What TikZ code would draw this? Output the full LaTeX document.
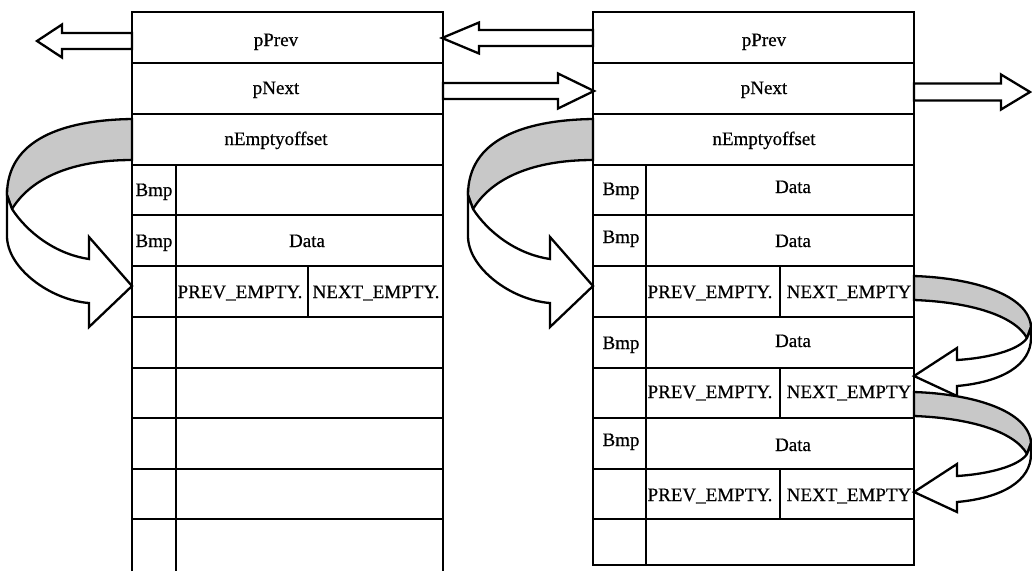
\documentclass[tikz,border=0pt]{standalone}
\usepackage{fontspec}
\setmainfont{Liberation Serif}
\newfontface\cellfont{Liberation Serif}[FakeBold=0.6]
\usetikzlibrary{calc}
\definecolor{bandgray}{RGB}{200,200,200}
\begin{document}
\begin{tikzpicture}[x=1pt,y=-1pt,
  frame/.style={line width=2.8pt},
  rowline/.style={line width=2.5pt},
  thinline/.style={line width=2.1pt},
  outline/.style={line width=2.3pt, line join=miter, fill=white},
  band/.style={line width=2.3pt, fill=bandgray},
  lbl/.style={anchor=base, inner sep=0pt, font=\cellfont\fontsize{19}{21}\selectfont},
  % ribbon arrow leaving a block on its left side and turning back into it
  twistleft/.pic={
    \draw[band] (0,119) .. controls (-70,120) and (-125,140) .. (-125,195)
      -- (-120,209) .. controls (-101,178) and (-60,160) .. (0,160) -- cycle;
    \draw[outline] (-120,209) .. controls (-105,232) and (-77,254) .. (-43,259)
      -- (-43,237) -- (0,286) -- (-43,327) -- (-43,303)
      .. controls (-82,300) and (-125,268) .. (-125,236) -- (-125,195) -- cycle;
  },
  % ribbon arrow leaving a block on its right side and turning back into it
  twistright/.pic={
    \draw[band] (0,0) .. controls (60,2) and (115,19) .. (117,51)
      -- (113,62) .. controls (100,39) and (55,26) .. (0,24) -- cycle;
    \draw[outline] (113,62) .. controls (105,74) and (75,82) .. (43,84)
      -- (43,72) -- (0,100) -- (43,120) -- (43,110)
      .. controls (88,106) and (117,89) .. (117,62) -- (117,51) -- cycle;
  },
]
\useasboundingbox (0,0) rectangle (1032,571);

% ---------------- left page ----------------
\draw[frame] (132,571) -- (132,12) -- (443,12) -- (443,571);
\foreach \y in {63,114,165,215,266,317,368,418,469,519}
  \draw[rowline] (132,\y) -- (443,\y);
\draw[frame] (176,165) -- (176,571);
\draw[thinline] (308,266) -- (308,317);

\node[lbl] (lprev)  at (276,46)  {pPrev};
\node[lbl] (lnext)  at (276,94)  {pNext};
\node[lbl] (lempty) at (276,145) {nEmptyoffset};
\node[lbl] (lbmpa)  at (154,196) {Bmp};
\node[lbl] (lbmpb)  at (154,247) {Bmp};
\node[lbl] (ldata)  at (307,247) {Data};
\node[lbl] (lpe)    at (240,298) {PREV\_EMPTY.};
\node[lbl] (lne)    at (376,298) {NEXT\_EMPTY.};

% ---------------- right page ----------------
\draw[frame] (593,12) rectangle (914,565);
\foreach \y in {63,114,165,215,266,317,368,418,469,519}
  \draw[rowline] (593,\y) -- (914,\y);
\draw[frame] (646,165) -- (646,565);
\foreach \y in {266,368,469}
  \draw[thinline] (780,\y) -- (780,{\y+51});

\node[lbl] (rprev)  at (764,46)  {pPrev};
\node[lbl] (rnext)  at (764,94)  {pNext};
\node[lbl] (rempty) at (764,145) {nEmptyoffset};
\node[lbl] (rbmpa)  at (621,195) {Bmp};
\node[lbl] (rdataa) at (793,193) {Data};
\node[lbl] (rbmpb)  at (621,243) {Bmp};
\node[lbl] (rdatab) at (793,247) {Data};
\node[lbl] (rpea)   at (710,298) {PREV\_EMPTY.};
\node[lbl] (rnea)   at (849,298) {NEXT\_EMPTY};
\node[lbl] (rbmpc)  at (621,349) {Bmp};
\node[lbl] (rdatac) at (793,347) {Data};
\node[lbl] (rpeb)   at (710,398) {PREV\_EMPTY.};
\node[lbl] (rneb)   at (849,398) {NEXT\_EMPTY};
\node[lbl] (rbmpd)  at (621,446) {Bmp};
\node[lbl] (rdatad) at (793,451) {Data};
\node[lbl] (rpec)   at (710,501) {PREV\_EMPTY.};
\node[lbl] (rnec)   at (849,501) {NEXT\_EMPTY};

% ---------------- hollow pointer arrows ----------------
\newcommand\hollowarrow[5]{% start, tip, head length, half shaft, half head
  \draw[outline] ($(#1)+(0,-#4)$) -- ($(#2)+(#3,-#4)$) -- ($(#2)+(#3,-#5)$)
    -- (#2) -- ($(#2)+(#3,#5)$) -- ($(#2)+(#3,#4)$) -- ($(#1)+(0,#4)$) -- cycle;}

\coordinate (lpfrom) at (132,41);  \coordinate (lpto) at (37,41);
\coordinate (mpfrom) at (593,38);  \coordinate (mpto) at (442,38);
\coordinate (mnfrom) at (443,91);  \coordinate (mnto) at (594,91);
\coordinate (rnfrom) at (914,92);  \coordinate (rnto) at (1030,92);

\hollowarrow{lpfrom}{lpto}{25}{8}{16.5}
\hollowarrow{mpfrom}{mpto}{37}{8}{15.5}
\hollowarrow{mnfrom}{mnto}{-36}{8}{17.5}
\hollowarrow{rnfrom}{rnto}{-29}{8.5}{17.5}

% ---------------- empty-slot chains ----------------
\coordinate (lchain) at (132,0);
\coordinate (rchain) at (593,0);
\coordinate (rlinka) at (914,276);
\coordinate (rlinkb) at (914,392);
\pic at (lchain) {twistleft};
\pic at (rchain) {twistleft};
\pic at (rlinka) {twistright};
\pic at (rlinkb) {twistright};
\end{tikzpicture}
\end{document}
